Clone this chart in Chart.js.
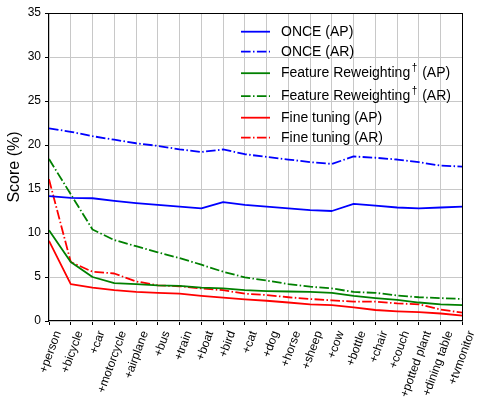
<!DOCTYPE html>
<html>
<head>
<meta charset="utf-8">
<script src="https://cdn.jsdelivr.net/npm/chart.js@4"></script>
<style>
  html, body { margin: 0; padding: 0; background: #ffffff; }
  canvas { display: block; }
</style>
</head>
<body>
<canvas id="chart" width="480" height="398"></canvas>
<script>
// Categories (added class, in order)
const categories = ['+person', '+bicycle', '+car', '+motorcycle', '+airplane', '+bus', '+train',
  '+boat', '+bird', '+cat', '+dog', '+horse', '+sheep', '+cow', '+bottle', '+chair', '+couch',
  '+potted plant', '+dining table', '+tvmonitor'];

// Series values (Score %)
const onceAP = [14.2, 14.0, 13.95, 13.65, 13.4, 13.2, 13.0, 12.8, 13.5, 13.2, 13.0, 12.8, 12.6, 12.5, 13.3, 13.1, 12.9, 12.8, 12.9, 13.0];
const onceAR = [21.9, 21.5, 21.0, 20.6, 20.2, 19.9, 19.5, 19.2, 19.5, 18.95, 18.65, 18.35, 18.05, 17.85, 18.7, 18.55, 18.35, 18.05, 17.65, 17.55];
const frAP = [10.3, 6.7, 5.0, 4.3, 4.2, 4.05, 4.0, 3.8, 3.7, 3.5, 3.4, 3.35, 3.3, 3.2, 2.85, 2.6, 2.4, 2.1, 1.9, 1.8];
const frAR = [18.4, 14.4, 10.4, 9.2, 8.5, 7.8, 7.15, 6.4, 5.6, 4.95, 4.6, 4.2, 3.9, 3.7, 3.3, 3.2, 2.9, 2.7, 2.6, 2.5];
const ftAP = [9.1, 4.2, 3.8, 3.5, 3.3, 3.2, 3.1, 2.85, 2.65, 2.45, 2.3, 2.1, 1.9, 1.8, 1.55, 1.25, 1.1, 1.0, 0.85, 0.6];
const ftAR = [16.1, 6.7, 5.6, 5.4, 4.5, 4.05, 3.95, 3.7, 3.5, 3.1, 2.95, 2.7, 2.5, 2.35, 2.2, 2.2, 2.0, 1.9, 1.3, 0.95];

// Series names
const seriesNames = ['ONCE (AP)', 'ONCE (AR)', 'Feature Reweighting\u2020 (AP)', 'Feature Reweighting\u2020 (AR)',
  'Fine tuning (AP)', 'Fine tuning (AR)'];

// Y axis
const yMin = 0;
const yMax = 35;
const yStep = 5;

const FONT = "'Liberation Sans', Arial, Helvetica, sans-serif";
const dashDot = [9.6, 2.4, 1.5, 2.4];

function line(label, data, color, dashed) {
  return {
    label: label,
    data: data,
    borderColor: color,
    backgroundColor: color,
    borderWidth: 1.8,
    borderDash: dashed ? dashDot : [],
    borderJoinStyle: 'round',
    pointRadius: 0,
    pointHoverRadius: 0,
    tension: 0,
    fill: false
  };
}

// Black box round the plot area, like matplotlib spines
const frame = {
  id: 'frame',
  afterDatasetsDraw(chart) {
    const a = chart.chartArea;
    const ctx = chart.ctx;
    ctx.save();
    ctx.strokeStyle = '#000000';
    ctx.lineWidth = 1;
    ctx.strokeRect(Math.round(a.left) - 0.5, Math.round(a.top) + 0.5,
      Math.round(a.right - a.left) + 1, Math.round(a.bottom - a.top) - 1);
    ctx.restore();
  }
};

// Legend drawn inside the plot, with a raised dagger
const legendBox = {
  id: 'legendBox',
  afterDraw(chart) {
    const a = chart.chartArea;
    const ctx = chart.ctx;
    const x0 = a.left + 192;
    const x1 = x0 + 29;
    const tx = x0 + 40;
    let rowTop = a.top + 12.2;
    ctx.save();
    chart.data.datasets.forEach((ds) => {
      const parts = ds.label.split('\u2020');
      const h = parts.length > 1 ? 16 : 13;
      const cy = rowTop + h / 2;

      ctx.strokeStyle = ds.borderColor;
      ctx.lineWidth = ds.borderWidth;
      ctx.setLineDash(ds.borderDash);
      ctx.beginPath();
      ctx.moveTo(x0, cy);
      ctx.lineTo(x1, cy);
      ctx.stroke();
      ctx.setLineDash([]);

      ctx.fillStyle = '#000000';
      ctx.textBaseline = 'middle';
      ctx.textAlign = 'left';
      ctx.font = '14px ' + FONT;
      ctx.fillText(parts[0], tx, cy);
      if (parts.length > 1) {
        let x = tx + ctx.measureText(parts[0]).width + 1.5;
        ctx.font = '10px ' + FONT;
        ctx.fillText('\u2020', x, cy - 5);
        x += ctx.measureText('\u2020').width + 1;
        ctx.font = '14px ' + FONT;
        ctx.fillText(parts[1], x, cy);
      }
      rowTop += h + 7;
    });
    ctx.restore();
  }
};

new Chart(document.getElementById('chart'), {
  type: 'line',
  data: {
    labels: categories,
    datasets: [
      line(seriesNames[0], onceAP, '#0000ff', false),
      line(seriesNames[1], onceAR, '#0000ff', true),
      line(seriesNames[2], frAP, '#008000', false),
      line(seriesNames[3], frAR, '#008000', true),
      line(seriesNames[4], ftAP, '#ff0000', false),
      line(seriesNames[5], ftAR, '#ff0000', true)
    ]
  },
  options: {
    responsive: false,
    animation: false,
    layout: {
      padding: { top: 13, right: 17, left: 0, bottom: 0 }
    },
    plugins: {
      legend: { display: false },
      tooltip: { enabled: false }
    },
    scales: {
      x: {
        offset: false,
        border: { display: false },
        grid: {
          color: '#c8c8c8',
          lineWidth: 1,
          drawTicks: true,
          tickLength: 4,
          tickColor: '#000000',
          tickWidth: 1
        },
        ticks: {
          autoSkip: false,
          minRotation: 70,
          maxRotation: 70,
          padding: 4,
          labelOffset: 9,
          color: '#000000',
          font: { family: FONT, size: 12 }
        },
        afterFit(scale) {
          scale.height = 77;
        }
      },
      y: {
        min: yMin,
        max: yMax,
        border: { display: false },
        grid: {
          color: '#c8c8c8',
          lineWidth: 1,
          drawTicks: true,
          tickLength: 4,
          tickColor: '#000000',
          tickWidth: 1
        },
        ticks: {
          stepSize: yStep,
          padding: 4,
          color: '#000000',
          font: { family: FONT, size: 12 }
        },
        title: {
          display: true,
          text: 'Score (%)',
          color: '#000000',
          padding: { top: 5, bottom: 0 },
          font: { family: FONT, size: 16 }
        },
        afterFit(scale) {
          scale.width = 49;
        }
      }
    }
  },
  plugins: [frame, legendBox]
});
</script>
</body>
</html>
